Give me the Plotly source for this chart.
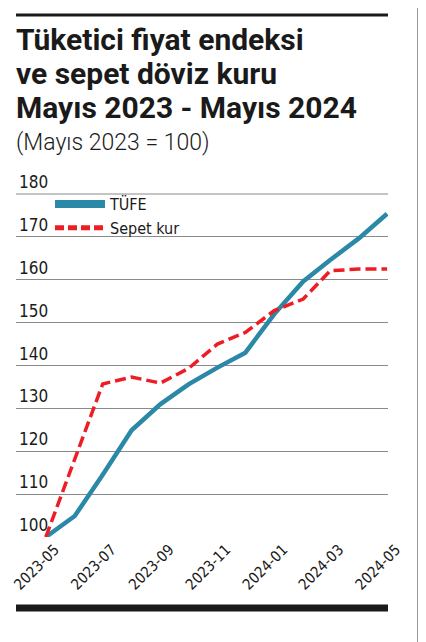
import plotly.graph_objects as go

# aylar ve endeksler (Mayıs 2023 = 100)
aylar = ['2023-05-01', '2023-06-01', '2023-07-01', '2023-08-01', '2023-09-01', '2023-10-01',
         '2023-11-01', '2023-12-01', '2024-01-01', '2024-02-01', '2024-03-01', '2024-04-01',
         '2024-05-01']
tufe = [100, 104.9, 114.5, 124.9, 131.0, 135.6, 139.5, 143.0, 152.0, 159.6, 164.6, 169.7, 175.4]
sepet_kur = [100, 118.0, 135.7, 137.3, 135.9, 139.3, 145.0, 147.7, 152.8, 155.5, 162.1, 162.5, 162.5]

baslik = ['Tüketici fiyat endeksi', 've sepet döviz kuru', 'Mayıs 2023 - Mayıs 2024']
alt_baslik = '(Mayıs 2023 = 100)'

FONT = 'Liberation Sans Narrow, DejaVu Sans Condensed, Roboto, sans-serif'
MAVI = '#2b88a6'
KIRMIZI = '#ee1c25'

fig = go.Figure()
fig.add_trace(go.Scatter(x=aylar, y=tufe, mode='lines', name='TÜFE', showlegend=False,
                         line=dict(color=MAVI, width=4.5)))
fig.add_trace(go.Scatter(x=aylar, y=sepet_kur, mode='lines', name='Sepet kur', showlegend=False,
                         line=dict(color=KIRMIZI, width=3.5, dash='11px,5px')))
# lejant için kalın çizgili boş seriler
fig.add_trace(go.Scatter(x=[None], y=[None], mode='lines', name='TÜFE',
                         line=dict(color=MAVI, width=8)))
fig.add_trace(go.Scatter(x=[None], y=[None], mode='lines', name='Sepet kur',
                         line=dict(color=KIRMIZI, width=5, dash='9px,4px')))

# ekran pikseli -> paper (grafik alanı x: 16..388, y: 194..537)
def px(x_px):
    return (x_px - 16) / 372

def py(y_px):
    return (537 - y_px) / 343

annots = []
for i, satir in enumerate(baslik):
    annots.append(dict(text='<b>' + satir + '</b>', xref='paper', yref='paper',
                       x=px(14), y=py(52 + i * 34), xanchor='left', yanchor='bottom',
                       align='left', showarrow=False, yshift=-7,
                       font=dict(size=30, family='Roboto, sans-serif', color='#1a1a1a')))
annots.append(dict(text=alt_baslik, xref='paper', yref='paper', x=px(14), y=py(153),
                   xanchor='left', yanchor='bottom', align='left', showarrow=False, yshift=-5,
                   font=dict(size=23, family='Roboto, sans-serif', weight=300, color='#1a1a1a')))

fig.update_layout(
    width=426, height=642,
    margin=dict(l=8, r=46, t=186, b=113),
    paper_bgcolor='white', plot_bgcolor='white',
    font=dict(family=FONT, color='#1a1a1a'),
    showlegend=True,
    legend=dict(x=px(50), y=py(187), xanchor='left', yanchor='top',
                bgcolor='rgba(0,0,0,0)', font=dict(size=16, family=FONT),
                tracegroupgap=0, itemwidth=50),
    xaxis=dict(range=['2023-03-30', '2024-05-02'], tickformat='%Y-%m', dtick='M2',
               tick0='2023-05-01', tickangle=-45, showgrid=False, showline=False,
               ticks='', automargin=False, ticklabelshift=9,
               tickfont=dict(size=15, family=FONT, color='#1a1a1a')),
    yaxis=dict(range=[100, 180], dtick=10, showgrid=True, gridcolor='#8a8a8a',
               gridwidth=1, zeroline=False, showline=False, automargin=False,
               ticklabelposition='inside top', ticklabeloverflow='allow', ticks='',
               tickfont=dict(size=17, family=FONT, color='#1a1a1a')),
    shapes=[
        dict(type='line', xref='paper', yref='paper', x0=0, x1=1, y0=py(15), y1=py(15),
             line=dict(color='#1a1a1a', width=3)),
        dict(type='line', xref='paper', yref='paper', x0=0, x1=1, y0=py(608), y1=py(608),
             line=dict(color='#1a1a1a', width=7)),
        dict(type='line', xref='paper', yref='paper', x0=px(418), x1=px(418),
             y0=py(0), y1=py(642), line=dict(color='#333333', width=1)),
        dict(type='line', xref='paper', yref='paper', x0=0, x1=1, y0=1, y1=1,
             line=dict(color='#8a8a8a', width=1)),
    ],
    annotations=annots,
)

fig.write_html('out.html')
